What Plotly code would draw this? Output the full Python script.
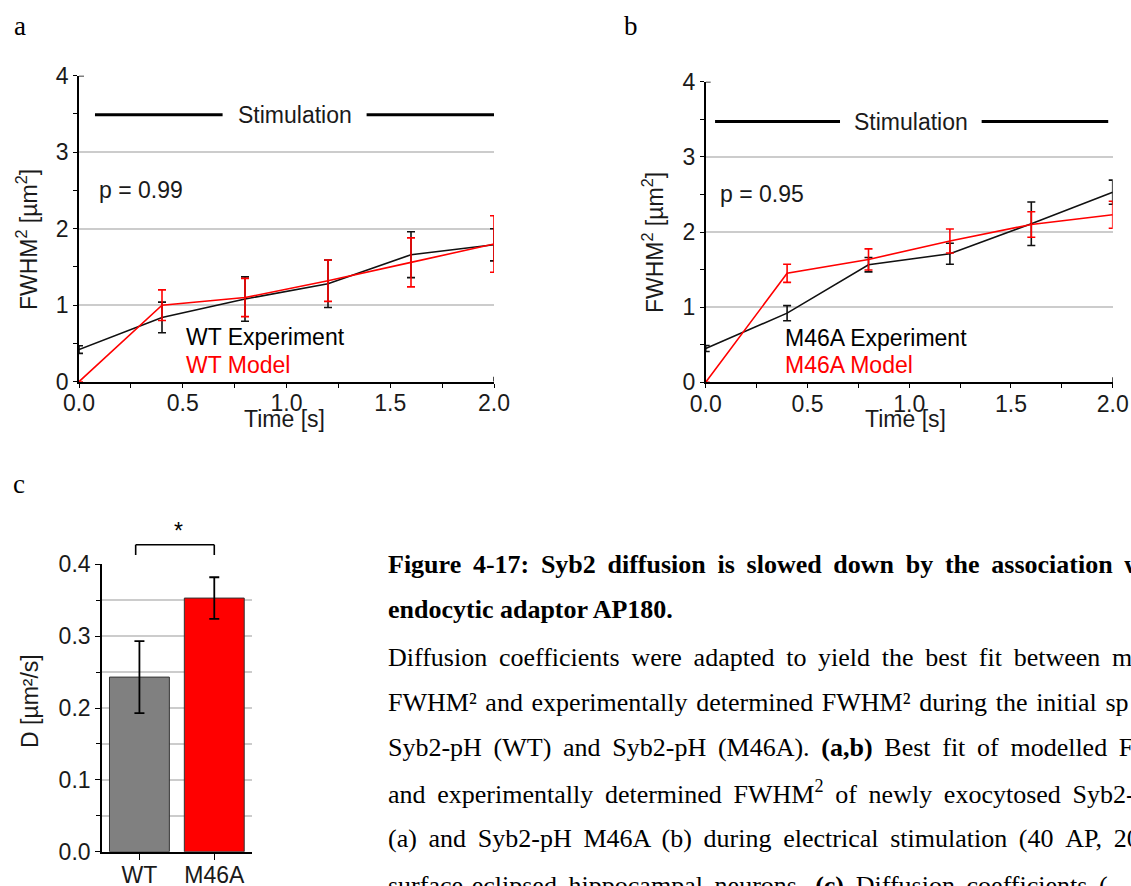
import plotly.graph_objects as go

W, H = 1131, 886

# ---------------- data ----------------
time_s = [0.0, 0.4, 0.8, 1.2, 1.6, 2.0]
wt_exp = [0.42, 0.84, 1.08, 1.28, 1.66, 1.79]
wt_exp_err = [0.05, 0.20, 0.29, 0.31, 0.30, 0.21]
wt_model = [0.0, 1.00, 1.10, 1.32, 1.56, 1.80]
wt_model_err = [0.0, 0.20, 0.25, 0.27, 0.32, 0.37]

m46_exp = [0.45, 0.92, 1.565, 1.71, 2.11, 2.53]
m46_exp_err = [0.04, 0.10, 0.095, 0.14, 0.29, 0.16]
m46_model = [0.0, 1.45, 1.635, 1.88, 2.10, 2.23]
m46_model_err = [0.0, 0.12, 0.14, 0.16, 0.17, 0.18]

groups = ["WT", "M46A"]
d_vals = [0.243, 0.353]
d_err = [0.050, 0.029]

p_values = ["p = 0.99", "p = 0.95"]

# caption lines: (text, extra word spacing character used to imitate justification)
THIN = "\u2009"
HAIR = "\u200a"
caption_lines = [
    ("<b>Figure 4-17: Syb2 diffusion is slowed down by the association w</b>", THIN),
    ("<b>endocytic adaptor AP180.</b>", ""),
    ("Diffusion coefficients were adapted to yield the best fit between m", THIN),
    ("FWHM² and experimentally determined FWHM² during the initial sp", HAIR),
    ("Syb2-pH (WT) and Syb2-pH (M46A). <b>(a,b)</b> Best fit of modelled F", THIN),
    ("and experimentally determined FWHM<sup>2</sup> of newly exocytosed Syb2-", THIN),
    ("(a) and Syb2-pH M46A (b) during electrical stimulation (40 AP, 20", THIN),
    ("surface-eclipsed hippocampal neurons. <b>(c)</b> Diffusion coefficients (", THIN),
]

# ---------------- helpers ----------------
def px(x):
    return x / W

def py(y):
    return 1 - y / H

SANS = "Liberation Sans"
SERIF = "Liberation Serif"
TXT = "#1a1a1a"
BLACK = "#111111"
RED = "#ff0000"
FS = 23

fig = go.Figure()

# panel a
fig.add_trace(go.Scatter(x=time_s, y=wt_exp, mode="lines", line=dict(color=BLACK, width=1.6),
                         error_y=dict(type="data", array=wt_exp_err, color=BLACK, thickness=1.6, width=4),
                         xaxis="x", yaxis="y", showlegend=False))
fig.add_trace(go.Scatter(x=time_s, y=wt_model, mode="lines", line=dict(color=RED, width=1.6),
                         error_y=dict(type="data", array=wt_model_err, color=RED, thickness=1.6, width=4),
                         xaxis="x", yaxis="y", showlegend=False))
# panel b
fig.add_trace(go.Scatter(x=time_s, y=m46_exp, mode="lines", line=dict(color=BLACK, width=1.6),
                         error_y=dict(type="data", array=m46_exp_err, color=BLACK, thickness=1.6, width=4),
                         xaxis="x2", yaxis="y2", showlegend=False))
fig.add_trace(go.Scatter(x=time_s, y=m46_model, mode="lines", line=dict(color=RED, width=1.6),
                         error_y=dict(type="data", array=m46_model_err, color=RED, thickness=1.6, width=4),
                         xaxis="x2", yaxis="y2", showlegend=False))
# panel c
fig.add_trace(go.Bar(x=groups, y=d_vals, width=0.8,
                     marker=dict(color=["#808080", RED], line=dict(color="#333333", width=1)),
                     error_y=dict(type="data", array=d_err, color="#000000", thickness=1.8, width=5),
                     xaxis="x3", yaxis="y3", showlegend=False))

tickfont = dict(family=SANS, size=FS, color=TXT)

def line_axis(domain, rng, dtick, minor_dtick, anchor, grid=True, fmt=None, standoff=0):
    d = dict(domain=domain, range=rng, anchor=anchor, showline=True, linecolor="#000000",
             linewidth=1.6, ticks="outside", ticklen=4, tickwidth=1.4, tickcolor="#000000",
             dtick=dtick, tick0=0, tickfont=tickfont, showgrid=grid, gridcolor="#cccccc",
             gridwidth=1.5, zeroline=False, fixedrange=True, ticklabelstandoff=standoff,
             minor=dict(ticks="outside", ticklen=4, tickwidth=1.4, dtick=minor_dtick,
                        tickcolor="#000000", showgrid=False))
    if fmt:
        d["tickformat"] = fmt
    return d

fig.update_layout(
    width=W, height=H, margin=dict(l=0, r=0, t=0, b=0, autoexpand=False),
    paper_bgcolor="white", plot_bgcolor="white",
    xaxis=line_axis([px(79), px(494)], [0, 2], 0.5, 0.25, "y", grid=False, fmt=".1f", standoff=-4),
    yaxis=line_axis([py(381.7), py(75.7)], [0, 4], 1, 0.5, "x"),
    xaxis2=line_axis([px(705.7), px(1112.7)], [0, 2], 0.5, 0.25, "y2", grid=False, fmt=".1f", standoff=-4),
    yaxis2=line_axis([py(382.3), py(81.7)], [0, 4], 1, 0.5, "x2"),
    xaxis3=dict(domain=[px(102), px(251.7)], range=[-0.5, 1.5], anchor="y3", showline=True,
                linecolor="#000000", linewidth=1.6, ticks="outside", ticklen=6, tickwidth=1.4,
                tickcolor="#000000", tickfont=tickfont, showgrid=False, zeroline=False, fixedrange=True,
                ticklabelstandoff=-4),
    yaxis3=dict(domain=[py(851.7), py(564.3)], range=[0, 0.4], anchor="x3", showline=True,
                linecolor="#000000", linewidth=1.6, ticks="outside", ticklen=5, tickwidth=1.4,
                tickcolor="#000000", dtick=0.1, tick0=0, tickformat=".1f", tickfont=tickfont,
                showgrid=True, gridcolor="#cccccc", gridwidth=1.5, zeroline=False, fixedrange=True,
                minor=dict(ticks="outside", ticklen=4, tickwidth=1.4, dtick=0.05, tickcolor="#000000",
                           showgrid=True, gridcolor="#cccccc", gridwidth=1.5)),
)

shapes = []
annotations = []

def ann(**kw):
    kw.setdefault("showarrow", False)
    kw.setdefault("xanchor", "center")
    kw.setdefault("yanchor", "middle")
    annotations.append(kw)

# Stimulation bars
for xr, yr, segs, tx, ty in [("x", "y", [(0.077, 0.692), (1.386, 2.0)], 1.04, 3.49),
                             ("x2", "y2", [(0.046, 0.66), (1.356, 1.978)], 1.01, 3.47)]:
    for a0, a1 in segs:
        shapes.append(dict(type="line", xref=xr, yref=yr, x0=a0, x1=a1, y0=ty, y1=ty,
                           line=dict(color="#000000", width=3)))
    ann(xref=xr, yref=yr, x=tx, y=ty, text="Stimulation", font=dict(family=SANS, size=FS, color=TXT))

# axis end caps
for xr, yr in [("x", "y"), ("x2", "y2")]:
    shapes.append(dict(type="line", xref=xr, yref=yr, xsizemode="pixel", xanchor=0, x0=0, x1=5,
                       y0=4, y1=4, line=dict(color="#000000", width=1.4)))
    shapes.append(dict(type="line", xref=xr, yref=yr, ysizemode="pixel", yanchor=0, y0=0, y1=5,
                       x0=2, x1=2, line=dict(color="#000000", width=1.4)))

# p values and in-plot legends
ann(xref="x", yref="y", x=0.085, y=2.5, text=p_values[0], xanchor="left",
    font=dict(family=SANS, size=FS, color=TXT))
ann(xref="x2", yref="y2", x=0.062, y=2.5, text=p_values[1], xanchor="left",
    font=dict(family=SANS, size=FS, color=TXT))
ann(xref="x", yref="y", x=0.507, y=0.59, text="WT Experiment", xanchor="left",
    font=dict(family=SANS, size=FS, color="#000000"))
ann(xref="x", yref="y", x=0.507, y=0.22, text="WT Model", xanchor="left",
    font=dict(family=SANS, size=FS, color=RED))
ann(xref="x2", yref="y2", x=0.381, y=0.585, text="M46A Experiment", xanchor="left",
    font=dict(family=SANS, size=FS, color="#000000"))
ann(xref="x2", yref="y2", x=0.381, y=0.23, text="M46A Model", xanchor="left",
    font=dict(family=SANS, size=FS, color=RED))

# axis titles
axis_font = dict(family=SANS, size=FS, color=TXT)
ann(xref="paper", yref="paper", x=px(27), y=py(240), text="FWHM<sup>2</sup> [µm<sup>2</sup>]",
    textangle=-90, font=axis_font)
ann(xref="paper", yref="paper", x=px(653), y=py(243), text="FWHM<sup>2</sup> [µm<sup>2</sup>]",
    textangle=-90, font=axis_font)
ann(xref="paper", yref="paper", x=px(30), y=py(701), text="D [µm²/s]", textangle=-90, font=axis_font)
ann(xref="paper", yref="paper", x=px(284), y=py(419), text="Time [s]", font=axis_font)
ann(xref="paper", yref="paper", x=px(905), y=py(419), text="Time [s]", font=axis_font)

# significance bracket
shapes += [
    dict(type="line", xref="x3", yref="y3 domain", x0=-0.05, x1=-0.05, y0=1.032, y1=1.068,
         line=dict(color="#000000", width=1.6)),
    dict(type="line", xref="x3", yref="y3 domain", x0=-0.05, x1=1.0, y0=1.068, y1=1.068,
         line=dict(color="#000000", width=1.6)),
    dict(type="line", xref="x3", yref="y3 domain", x0=1.0, x1=1.0, y0=1.032, y1=1.068,
         line=dict(color="#000000", width=1.6)),
]
ann(xref="x3", yref="y3 domain", x=0.52, y=1.115, text="*", font=dict(family=SANS, size=FS, color="#000000"))

# panel letters
for letter, lx, ly in [("a", 19.5, 26), ("b", 631, 26), ("c", 19, 484)]:
    ann(xref="paper", yref="paper", x=px(lx), y=py(ly), text=letter,
        font=dict(family=SERIF, size=27, color="#000000"))

# caption
cap_y = [564, 609, 657, 702, 747, 792, 838, 885]
for (txt, sp), yy in zip(caption_lines, cap_y):
    if sp:
        txt = txt.replace(" ", " " + sp)
    ann(xref="paper", yref="paper", x=px(386), y=py(yy), text=txt, xanchor="left",
        font=dict(family=SERIF, size=26, color="#000000"))

fig.update_layout(shapes=shapes, annotations=annotations)

css_js = (
    "document.documentElement.style.margin='0';document.documentElement.style.padding='0';"
    "document.documentElement.style.overflow='hidden';"
    "document.body.style.margin='0';document.body.style.padding='0';document.body.style.overflow='hidden';"
    "var d=document.querySelector('.plotly-graph-div');d.style.overflow='hidden';"
    "d.style.width='1131px';d.style.height='886px';"
    "document.querySelectorAll('.main-svg').forEach(function(s){s.style.overflow='hidden';});"
)
fig.write_html("out.html", config={"displayModeBar": False, "responsive": False}, post_script=css_js)
